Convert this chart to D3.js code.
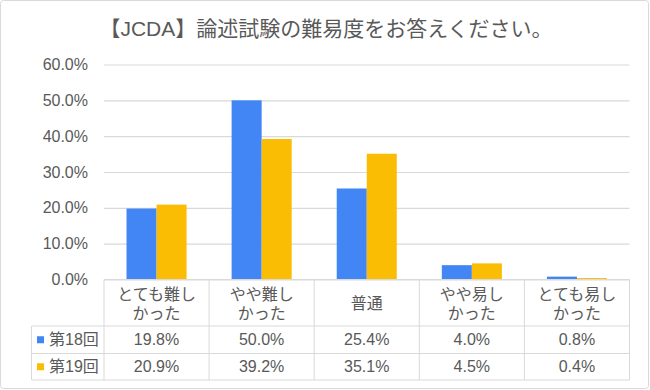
<!DOCTYPE html>
<html>
<head>
<meta charset="utf-8">
<script src="https://cdn.jsdelivr.net/npm/d3@7"></script>
<style>
  body { margin: 0; background: #fff; }
  text { font-family: 'Liberation Sans', Arial, 'Noto Sans CJK JP', sans-serif; fill: #595959; }
</style>
</head>
<body>
<svg id="chart" width="650" height="390"></svg>
<script>
const title = '【JCDA】論述試験の難易度をお答えください。'
const categories = [['とても難し', 'かった'], ['やや難し', 'かった'], ['普通'], ['やや易し', 'かった'], ['とても易し', 'かった']]
const seriesNames = ['第18回', '第19回']
const round18 = [19.8, 50.0, 25.4, 4.0, 0.8]
const round19 = [20.9, 39.2, 35.1, 4.5, 0.4]
const yTicks = [0, 10, 20, 30, 40, 50, 60]

const colors = ['#4285f4', '#fbbc04']
const gridColor = '#d9d9d9'
const plot = { left: 104, right: 629.5, top: 64.5, bottom: 279.5 }
const rowLines = [279.5, 326, 353.5, 380]
const legendLeft = 31.5
const fontSize = 16

const svg = d3.select('#chart')
const series = [round18, round19]

// outer frame
svg.append('rect')
  .attr('x', 0.5).attr('y', 0.5).attr('width', 648).attr('height', 388)
  .attr('rx', 3)
  .style('fill', '#fff').style('stroke', gridColor)

svg.append('text')
  .attr('x', 326).attr('y', 28)
  .attr('text-anchor', 'middle').attr('dominant-baseline', 'central')
  .style('font-size', '21px')
  .text(title)

const catIds = categories.map((c, i) => i)
const x = d3.scaleBand().domain(catIds).range([plot.left, plot.right])
const xInner = d3.scaleBand().domain([0, 1]).range([0, x.bandwidth()]).paddingOuter(0.75)
const y = d3.scaleLinear().domain([0, 60]).range([plot.bottom, plot.top])

// gridlines + y labels
const yAxis = svg.append('g')
  .attr('transform', `translate(${plot.left},0)`)
  .call(d3.axisLeft(y).tickValues(yTicks).tickSize(-(plot.right - plot.left)).tickFormat(d => d.toFixed(1) + '%'))
yAxis.select('.domain').remove()
yAxis.selectAll('.tick line').style('stroke', gridColor).style('stroke-width', 1.2)
yAxis.selectAll('.tick text').attr('x', -16).style('font-size', fontSize + 'px').style('fill', '#595959')
  .style('font-family', "'Liberation Sans', Arial, sans-serif")

// bars
series.forEach((vals, si) => {
  svg.append('g').selectAll('rect').data(vals)
    .enter().append('rect')
    .attr('x', (d, i) => x(i) + xInner(si))
    .attr('width', xInner.bandwidth())
    .attr('y', d => y(d))
    .attr('height', d => y(0) - y(d))
    .style('fill', colors[si])
})

// data table
const table = svg.append('g').style('stroke', gridColor).style('stroke-width', 1)
table.append('line').attr('x1', plot.left).attr('x2', plot.right).attr('y1', rowLines[0]).attr('y2', rowLines[0])
rowLines.slice(1).forEach(ly => {
  table.append('line').attr('x1', legendLeft).attr('x2', plot.right).attr('y1', ly).attr('y2', ly)
})
const colLines = catIds.map(i => x(i)).concat([plot.right])
colLines.forEach(lx => {
  table.append('line').attr('x1', lx).attr('x2', lx).attr('y1', rowLines[0]).attr('y2', rowLines[3])
})
table.append('line').attr('x1', legendLeft).attr('x2', legendLeft).attr('y1', rowLines[1]).attr('y2', rowLines[3])

// header row (category names)
categories.forEach((lines, i) => {
  const cx = x(i) + x.bandwidth() / 2
  const mid = (rowLines[0] + rowLines[1]) / 2 + 1
  lines.forEach((t, li) => {
    svg.append('text')
      .attr('x', cx).attr('y', mid + (li - (lines.length - 1) / 2) * 19)
      .attr('text-anchor', 'middle').attr('dominant-baseline', 'central')
      .style('font-size', fontSize + 'px')
      .text(t)
  })
})

// value rows
series.forEach((vals, si) => {
  const cy = (rowLines[si + 1] + rowLines[si + 2]) / 2
  svg.append('rect')
    .attr('x', 37).attr('y', cy - 3.5).attr('width', 7).attr('height', 7)
    .style('fill', colors[si])
  svg.append('text')
    .attr('x', 49).attr('y', cy)
    .attr('dominant-baseline', 'central')
    .style('font-size', fontSize + 'px')
    .text(seriesNames[si])
  vals.forEach((v, i) => {
    svg.append('text')
      .attr('x', x(i) + x.bandwidth() / 2).attr('y', cy)
      .attr('text-anchor', 'middle').attr('dominant-baseline', 'central')
      .style('font-size', fontSize + 'px')
      .text(v.toFixed(1) + '%')
  })
})
</script>
</body>
</html>
